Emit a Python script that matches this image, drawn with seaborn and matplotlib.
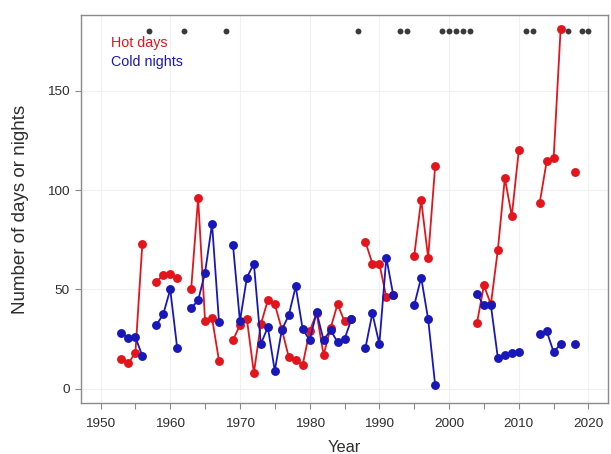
import numpy as np
import pandas as pd
import matplotlib
matplotlib.use("Agg")
import matplotlib.pyplot as plt
import seaborn as sns

# Annual counts, 1953-2020 (NaN = year without data)
years = list(range(1953, 2021))

hot_days = [
    15, 13, 18, 73, np.nan,                     # 1953-1957
    53.5, 57.5, 58, 56, np.nan,                 # 1958-1962
    50, 96, 34, 35.5, 14, np.nan,               # 1963-1968
    24.5, 32, 35, 8, 32.5, 44.5, 42.5, 30,      # 1969-1976
    16, 14.5, 12, 29, 38, 17, 30.5, 42.5, 34, 35,  # 1977-1986
    np.nan,                                     # 1987
    74, 63, 63, 46, 47,                         # 1988-1992
    np.nan, np.nan,                             # 1993-1994
    67, 95, 66, 112,                            # 1995-1998
    np.nan, np.nan, np.nan, np.nan, np.nan,     # 1999-2003
    33, 52, 42.5, 70, 106, 87, 120,             # 2004-2010
    np.nan, np.nan,                             # 2011-2012
    93.5, 114.5, 116, 181,                      # 2013-2016
    np.nan, 109, np.nan, np.nan,                # 2017-2020
]

cold_nights = [
    28, 25.5, 26, 16.5, np.nan,
    32, 37.5, 50, 20.5, np.nan,
    40.5, 44.5, 58.5, 83, 33.5, np.nan,
    72.5, 34, 56, 63, 22.5, 31, 9, 29.5,
    37, 51.5, 30, 24.5, 38.5, 24.5, 29.5, 23.5, 25, 35,
    np.nan,
    20.5, 38, 22.5, 66, 47,
    np.nan, np.nan,
    42, 56, 35, 2,
    np.nan, np.nan, np.nan, np.nan, np.nan,
    47.5, 42, 42, 15.5, 17, 18, 18.5,
    np.nan, np.nan,
    27.5, 29, 18.5, 22.5,
    np.nan, 22.5, np.nan, np.nan,
]

series_names = ["Hot days", "Cold nights"]
series_colors = ["#e3151c", "#1818b8"]
marker_row_value = 180

def to_frame(values, name):
    df = pd.DataFrame({"year": years, "value": values})
    # a new segment starts after every gap, so lines break at missing years
    df["seg"] = df["value"].isna().cumsum()
    df = df.dropna()
    df["series"] = name
    return df

data = pd.concat([to_frame(hot_days, series_names[0]),
                  to_frame(cold_nights, series_names[1])], ignore_index=True)
missing = pd.DataFrame({"year": [y for y, v in zip(years, hot_days) if np.isnan(v)]})
missing["value"] = marker_row_value

sns.set_style("white")
plt.rcParams["font.family"] = ["Liberation Sans", "DejaVu Sans"]

fig = plt.figure(figsize=(6.11, 4.54), dpi=100)
ax = fig.add_axes([81 / 611, 1 - 403 / 454, (608 - 81) / 611, (403 - 15) / 454])

for name, color in zip(series_names, series_colors):
    sub = data[data["series"] == name]
    sns.lineplot(data=sub, x="year", y="value", units="seg", estimator=None,
                 color=color, marker="o", markersize=6.4, markeredgewidth=0,
                 linewidth=1.3, ax=ax, legend=False)

sns.scatterplot(data=missing, x="year", y="value", color="#3a3a3a", s=18,
                linewidth=0, ax=ax, legend=False, zorder=4)

ax.set_xlim(1947.2, 2022.8)
ax.set_ylim(-7.2, 188.2)
ax.set_xticks(range(1950, 2021, 10))
ax.set_xticks(range(1955, 2021, 10), minor=True)
ax.set_yticks([0, 50, 100, 150])
ax.grid(True, which="major", color="#f0f0f0", linewidth=0.8)
ax.set_axisbelow(True)

for s in ax.spines.values():
    s.set_color("#8a8a8a")
    s.set_linewidth(1.0)
ax.tick_params(which="both", direction="out", length=4, width=0.8,
               color="#8a8a8a", labelsize=9.7, labelcolor="#2e2e2e")
ax.tick_params(axis="x", which="both", bottom=True, pad=7)
ax.tick_params(axis="y", left=True, pad=4)

ax.set_xlabel("Year", fontsize=11.8, color="#2e2e2e", labelpad=7)
ax.set_ylabel("Number of days or nights", fontsize=13.5, color="#2e2e2e", labelpad=13)

ax.text(1951.5, 174, series_names[0], color=series_colors[0], fontsize=10.3,
        va="center", ha="left")
ax.text(1951.5, 164.5, series_names[1], color=series_colors[1], fontsize=10.3,
        va="center", ha="left")

fig.savefig("out.png", dpi=100)
